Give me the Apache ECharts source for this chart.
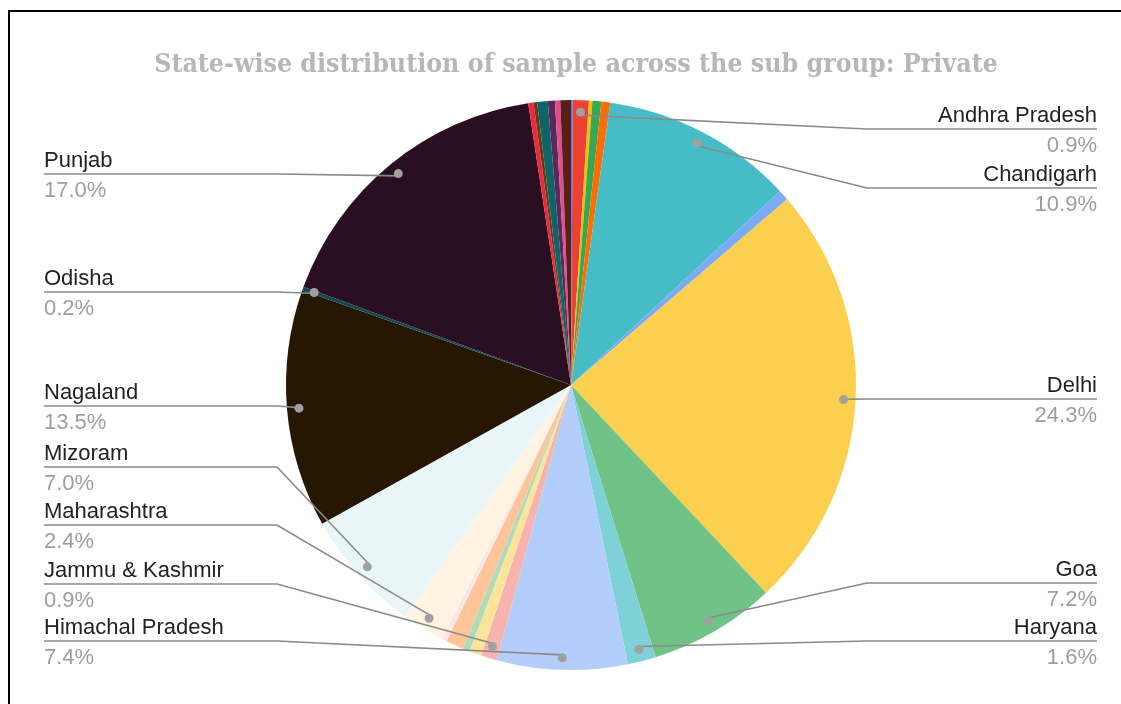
<!DOCTYPE html>
<html>
<head>
<meta charset="utf-8">
<title>State-wise distribution of sample across the sub group: Private</title>
<script src="https://cdn.jsdelivr.net/npm/echarts@6/dist/echarts.min.js"></script>
<style>
  html, body { margin: 0; padding: 0; background: #ffffff; }
  #wrap { position: relative; width: 1121px; height: 704px; overflow: hidden; }
  #chart { position: absolute; left: 0; top: 0; width: 1121px; height: 704px; }
  #frame {
    position: absolute; left: 8px; top: 10px; width: 1200px; height: 800px;
    border-top: 2px solid #000; border-left: 2px solid #000; pointer-events: none;
  }
</style>
</head>
<body>
<div id="wrap">
  <div id="chart"></div>
  <div id="frame"></div>
</div>
<script>
// Share of the private-school sample by state (percent of total)
const states = [
  'Andaman & Nicobar Islands', 'Andhra Pradesh', 'Arunachal Pradesh', 'Assam', 'Bihar',
  'Chandigarh', 'Chhattisgarh', 'Delhi', 'Goa', 'Haryana', 'Himachal Pradesh',
  'Jammu & Kashmir', 'Jharkhand', 'Karnataka', 'Kerala', 'Madhya Pradesh',
  'Maharashtra', 'Mizoram', 'Nagaland', 'Odisha', 'Punjab',
  'Rajasthan', 'Sikkim', 'Tamil Nadu', 'Telangana', 'Tripura', 'Uttar Pradesh'
];
const shares = [
  0.1, 0.9, 0.2, 0.5, 0.5,
  10.9, 0.6, 24.3, 7.2, 1.6, 7.4,
  0.9, 0.7, 0.4, 1.0, 0.3,
  2.4, 7.0, 13.5, 0.2, 17.0,
  0.3, 0.2, 0.6, 0.4, 0.3, 0.6
];
const sliceColors = [
  '#4285f4', '#ea4335', '#fbbc04', '#34a853', '#ff6d01',
  '#46bdc6', '#7baaf7', '#fcd04f', '#71c287', '#7ed1d7', '#b3cefb',
  '#f7b4ae', '#fde49b', '#aedcba', '#ffc599', '#fce6ea',
  '#fff4e1', '#e8f6f7', '#261703', '#0c4a4d', '#2a0f22',
  '#ee2741', '#6b3b0c', '#0f6468', '#582a5c', '#e04f8b', '#5a1e18'
];
// States whose slices carry a callout
const labelledStates = [
  'Andhra Pradesh', 'Chandigarh', 'Delhi', 'Goa', 'Haryana',
  'Punjab', 'Odisha', 'Nagaland', 'Mizoram', 'Maharashtra', 'Jammu & Kashmir', 'Himachal Pradesh'
];

// Callout layout: vertical position of each rule, and where the rules bend / end
const calloutY = {
  'Andhra Pradesh': 129, 'Chandigarh': 188, 'Delhi': 399, 'Goa': 583, 'Haryana': 641,
  'Punjab': 174, 'Odisha': 292, 'Nagaland': 406, 'Mizoram': 467, 'Maharashtra': 525,
  'Jammu & Kashmir': 584, 'Himachal Pradesh': 641
};
const rightSide = ['Andhra Pradesh', 'Chandigarh', 'Delhi', 'Goa', 'Haryana'];
const CX = 571, CY = 385, R = 285, DOT_R = 270;
const LEFT_EDGE = 44, RIGHT_EDGE = 1097, LEFT_BEND = 277, RIGHT_BEND = 867;

const chart = echarts.init(document.getElementById('chart'), null, { renderer: 'canvas' });

const isLabelled = name => labelledStates.indexOf(name) >= 0;

const sliceData = states.map((name, i) => ({
  name: name, value: shares[i], itemStyle: { color: sliceColors[i] }
}));
const calloutData = states.map((name, i) => ({
  name: name, value: shares[i],
  label: { show: isLabelled(name) }, labelLine: { show: isLabelled(name) }
}));
const dotData = states.map((name, i) => ({
  name: name, value: shares[i], label: { show: isLabelled(name) }
}));

const ring = {
  type: 'pie',
  center: [CX, CY],
  startAngle: 90,
  clockwise: true,
  silent: true,
  percentPrecision: 1,
  avoidLabelOverlap: false,
  emphasis: { disabled: true }
};

chart.setOption({
  animation: false,
  backgroundColor: '#ffffff',
  title: {
    text: 'State-wise distribution of sample across the sub group: Private',
    left: CX,
    textAlign: 'center',
    top: 47,
    textStyle: {
      fontFamily: "'DejaVu Serif Condensed', 'Liberation Serif', serif",
      fontWeight: 'bold',
      fontSize: 26.5,
      color: '#b7b7b7'
    }
  },
  series: [
    // coloured slices
    Object.assign({}, ring, {
      z: 2,
      radius: R,
      data: sliceData,
      itemStyle: { borderWidth: 0 },
      label: { show: false },
      labelLine: { show: false }
    }),
    // callout rules and texts, drawn above every slice
    Object.assign({}, ring, {
      z: 5,
      radius: R,
      data: calloutData,
      itemStyle: { color: 'rgba(0,0,0,0)', borderWidth: 0 },
      label: {
        position: 'outside',
        formatter: p => '{n|' + p.name + '}\n{p|' + p.percent.toFixed(1) + '%}',
        rich: {
          n: { fontFamily: 'Liberation Sans', fontSize: 22, color: '#222222', lineHeight: 30 },
          p: { fontFamily: 'Liberation Sans', fontSize: 22, color: '#9e9e9e', lineHeight: 30 }
        }
      },
      labelLine: {
        length: 10,
        length2: 10,
        lineStyle: { color: '#8a8a8a', width: 1.6 }
      },
      labelLayout: function (params) {
        const name = states[params.dataIndex];
        const y = calloutY[name];
        if (y == null || !params.labelLinePoints) return {};
        const p0 = params.labelLinePoints[0];
        const dx = p0[0] - CX, dy = p0[1] - CY;
        const len = Math.sqrt(dx * dx + dy * dy) || 1;
        const dot = [CX + dx / len * DOT_R, CY + dy / len * DOT_R];
        const right = rightSide.indexOf(name) >= 0;
        const bendX = right ? Math.max(RIGHT_BEND, dot[0]) : Math.min(LEFT_BEND, dot[0]);
        const edgeX = right ? RIGHT_EDGE : LEFT_EDGE;
        return {
          x: edgeX,
          y: y + 2,
          align: right ? 'right' : 'left',
          verticalAlign: 'middle',
          labelLinePoints: [dot, [bendX, y], [edgeX, y]]
        };
      }
    }),
    // round markers where each rule meets its slice
    Object.assign({}, ring, {
      z: 8,
      radius: [DOT_R - 10, DOT_R + 10],
      data: dotData,
      itemStyle: { color: 'rgba(0,0,0,0)', borderWidth: 0 },
      label: {
        position: 'inside',
        formatter: '{d| }',
        rich: {
          d: { width: 9, height: 9, borderRadius: 4.5, backgroundColor: '#a0a0a0', fontSize: 1, lineHeight: 9 }
        }
      },
      labelLine: { show: false }
    })
  ]
});
</script>
</body>
</html>
